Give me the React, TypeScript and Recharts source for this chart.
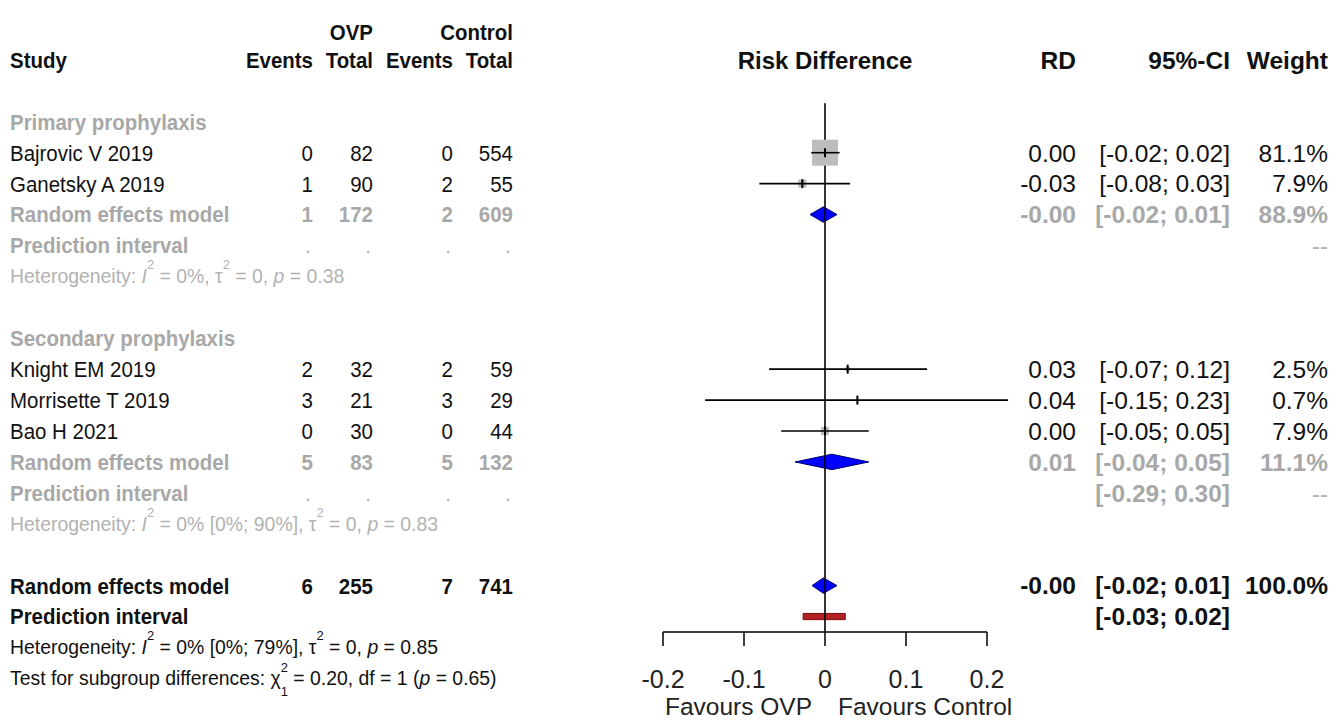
import React from 'react';
import { ComposedChart, XAxis, YAxis, Scatter, ReferenceLine, ReferenceArea } from 'recharts';

const FONT = '"Liberation Sans", Arial, Helvetica, sans-serif';
const INK = '#111111';
const GREY = '#a8a8a8';
const PALE = '#b2b2b2';

// single studies
const studyNames = ['Bajrovic V 2019', 'Ganetsky A 2019', 'Knight EM 2019', 'Morrisette T 2019', 'Bao H 2021'];
const studyRows = [3, 4, 10, 11, 12];
const ovpEvents = [0, 1, 2, 3, 0];
const ovpTotal = [82, 90, 32, 21, 30];
const ctrlEvents = [0, 2, 2, 3, 0];
const ctrlTotal = [554, 55, 59, 29, 44];
const studyRd = [0.0, -0.028, 0.028, 0.04, 0.0];
const studyLow = [-0.017, -0.081, -0.069, -0.148, -0.054];
const studyHigh = [0.018, 0.031, 0.126, 0.226, 0.054];
const studyWeight = [81.1, 7.9, 2.5, 0.7, 7.9];
const studyRdText = ['0.00', '-0.03', '0.03', '0.04', '0.00'];
const studyCiText = ['[-0.02; 0.02]', '[-0.08; 0.03]', '[-0.07; 0.12]', '[-0.15; 0.23]', '[-0.05; 0.05]'];
const studyWeightText = ['81.1%', '7.9%', '2.5%', '0.7%', '7.9%'];

// subgroups
const groupNames = ['Primary prophylaxis', 'Secondary prophylaxis'];
const groupRows = [2, 9];

// random effects (primary, secondary, overall)
const pooledRows = [5, 13, 17];
const pooledOvpEvents = [1, 5, 6];
const pooledOvpTotal = [172, 83, 255];
const pooledCtrlEvents = [2, 5, 7];
const pooledCtrlTotal = [609, 132, 741];
const pooledRd = [-0.002, 0.0085, -0.002];
const pooledLow = [-0.0185, -0.037, -0.016];
const pooledHigh = [0.0148, 0.054, 0.0148];
const pooledRdText = ['-0.00', '0.01', '-0.00'];
const pooledCiText = ['[-0.02; 0.01]', '[-0.04; 0.05]', '[-0.02; 0.01]'];
const pooledWeightText = ['88.9%', '11.1%', '100.0%'];

// prediction intervals
const piRows = [6, 14, 18];
const piCiText = ['', '[-0.29; 0.30]', '[-0.03; 0.02]'];
const piWeightText = ['--', '--', ''];
const overallPiLow = -0.027;
const overallPiHigh = 0.025;

// heterogeneity + test
const hetRows = [7, 15, 19];
const hetI2 = ['0%', '0% [0%; 90%]', '0% [0%; 79%]'];
const hetTau2 = ['0', '0', '0'];
const hetP = ['0.38', '0.83', '0.85'];
const testRow = 20;
const testChi2 = '0.20';
const testDf = '1';
const testP = '0.65';

const xTicks = [-0.2, -0.1, 0, 0.1, 0.2];
const xLabels = ['Favours OVP', 'Favours Control'];

type RowInfo = { row: number; kind: string; i: number };
const rowInfo: RowInfo[] = [
  { row: -0.9, kind: 'top', i: 0 },
  { row: 0, kind: 'head', i: 0 },
  ...groupRows.map((row, i) => ({ row, kind: 'group', i })),
  ...studyRows.map((row, i) => ({ row, kind: 'study', i })),
  ...pooledRows.map((row, i) => ({ row, kind: 'pooled', i })),
  ...piRows.map((row, i) => ({ row, kind: 'pi', i })),
  ...hetRows.map((row, i) => ({ row, kind: 'het', i })),
  { row: testRow, kind: 'test', i: 0 },
];
const rowTicks = rowInfo.map((r) => r.row);
const rowMap = new Map(rowInfo.map((r) => [r.row, r]));

const studyPoints = studyNames.map((name, i) => ({ name, x: studyRd[i], y: studyRows[i], w: studyWeight[i] }));

const LCOL = [313, 373, 453, 513];
const RCOL = [1076, 1230, 1328];
const LS = 22;
const LSX = 0.93; // left table is a bit condensed in the original
const RS = 24.5;
const HS = 19.4;

function txt(x: number, y: number, s: any, o: any = {}) {
  const size = o.size ?? LS;
  const sx = o.sx ?? LSX;
  return (
    <text
      key={o.k ?? `${x}-${s}`}
      transform={`translate(${x} ${y + size * 0.36}) scale(${sx} 1)`}
      x={0}
      y={0}
      textAnchor={o.anchor ?? 'end'}
      fontSize={size}
      fontWeight={o.bold ? 'bold' : 'normal'}
      fill={o.fill ?? INK}
      fontFamily={FONT}
    >
      {s}
    </text>
  );
}

function HetText({ y, i }: { y: number; i: number }) {
  const fill = i === 2 ? INK : PALE;
  return (
    <text x={10} y={y + 7} fontSize={HS} fill={fill} fontFamily={FONT}>
      Heterogeneity: <tspan fontStyle="italic">I</tspan>
      <tspan fontSize={13} dy={-14}>2</tspan>
      <tspan dy={14}>{` = ${hetI2[i]}, τ`}</tspan>
      <tspan fontSize={13} dy={-14}>2</tspan>
      <tspan dy={14}>{` = ${hetTau2[i]}, `}</tspan>
      <tspan fontStyle="italic">p</tspan>
      <tspan>{` = ${hetP[i]}`}</tspan>
    </text>
  );
}

function TestText({ y }: { y: number }) {
  return (
    <text x={10} y={y + 7} fontSize={HS} fill={INK} fontFamily={FONT}>
      Test for subgroup differences: χ
      <tspan fontSize={13} dy={-13}>2</tspan>
      <tspan fontSize={13} dx={-7.2} dy={24}>{testDf}</tspan>
      <tspan dy={-11}>{` = ${testChi2}, df = ${testDf} (`}</tspan>
      <tspan fontStyle="italic">p</tspan>
      <tspan>{` = ${testP})`}</tspan>
    </text>
  );
}

function LeftRow(props: any) {
  const { y, payload } = props;
  const r = rowMap.get(payload.value);
  if (!r) return <g />;
  const i = r.i;
  const out: any[] = [];
  if (r.kind === 'top') {
    out.push(txt(LCOL[1], y, 'OVP', { bold: true }), txt(LCOL[3], y, 'Control', { bold: true }));
  } else if (r.kind === 'head') {
    out.push(txt(10, y, 'Study', { bold: true, anchor: 'start' }));
    ['Events', 'Total', 'Events', 'Total'].forEach((s, c) => out.push(txt(LCOL[c], y, s, { bold: true, k: `h${c}` })));
  } else if (r.kind === 'group') {
    out.push(txt(10, y, groupNames[i], { bold: true, anchor: 'start', fill: GREY }));
  } else if (r.kind === 'study') {
    out.push(txt(10, y, studyNames[i], { anchor: 'start' }));
    [ovpEvents[i], ovpTotal[i], ctrlEvents[i], ctrlTotal[i]].forEach((v, c) => out.push(txt(LCOL[c], y, v, { k: `s${c}` })));
  } else if (r.kind === 'pooled') {
    const fill = i === 2 ? INK : GREY;
    out.push(txt(10, y, 'Random effects model', { bold: true, anchor: 'start', fill }));
    [pooledOvpEvents[i], pooledOvpTotal[i], pooledCtrlEvents[i], pooledCtrlTotal[i]].forEach((v, c) =>
      out.push(txt(LCOL[c], y, v, { bold: true, fill, k: `p${c}` })),
    );
  } else if (r.kind === 'pi') {
    const fill = i === 2 ? INK : GREY;
    out.push(txt(10, y, 'Prediction interval', { bold: true, anchor: 'start', fill }));
    if (i !== 2) LCOL.forEach((x, c) => out.push(txt(x - 2, y, '.', { fill: PALE, k: `d${c}` })));
  } else if (r.kind === 'het') {
    out.push(<HetText key="het" y={y} i={i} />);
  } else if (r.kind === 'test') {
    out.push(<TestText key="test" y={y} />);
  }
  return <g>{out}</g>;
}

function RightRow(props: any) {
  const { y, payload } = props;
  const r = rowMap.get(payload.value);
  if (!r) return <g />;
  const i = r.i;
  const out: any[] = [];
  const o = { size: RS, sx: 1 };
  if (r.kind === 'head') {
    out.push(txt(825, y, 'Risk Difference', { bold: true, anchor: 'middle', size: 24, sx: 1 }));
    out.push(txt(RCOL[0], y, 'RD', { ...o, bold: true }));
    out.push(txt(RCOL[1], y, '95%-CI', { ...o, bold: true }));
    out.push(txt(RCOL[2], y, 'Weight', { ...o, bold: true }));
  } else if (r.kind === 'study') {
    out.push(txt(RCOL[0], y, studyRdText[i], o));
    out.push(txt(RCOL[1], y, studyCiText[i], o));
    out.push(txt(RCOL[2], y, studyWeightText[i], o));
  } else if (r.kind === 'pooled') {
    const fill = i === 2 ? INK : GREY;
    out.push(txt(RCOL[0], y, pooledRdText[i], { ...o, bold: true, fill }));
    out.push(txt(RCOL[1], y, pooledCiText[i], { ...o, bold: true, fill }));
    out.push(txt(RCOL[2], y, pooledWeightText[i], { ...o, bold: true, fill }));
  } else if (r.kind === 'pi') {
    const fill = i === 2 ? INK : GREY;
    if (piCiText[i]) out.push(txt(RCOL[1], y, piCiText[i], { ...o, bold: true, fill }));
    if (piWeightText[i]) out.push(txt(RCOL[2], y, piWeightText[i], { ...o, fill: PALE }));
  }
  return <g>{out}</g>;
}

function AxisTick(props: any) {
  const { x, y, payload } = props;
  return (
    <g>
      <text x={x} y={y + 42} textAnchor="middle" fontSize={25} fill="#222" fontFamily={FONT}>
        {payload.value}
      </text>
      {payload.value === 0 && (
        <g>
          <text x={x - 13} y={y + 69} textAnchor="end" fontSize={24.5} fill="#222" fontFamily={FONT}>
            {xLabels[0]}
          </text>
          <text x={x + 13} y={y + 69} textAnchor="start" fontSize={24.5} fill="#222" fontFamily={FONT}>
            {xLabels[1]}
          </text>
        </g>
      )}
    </g>
  );
}

function Square(props: any) {
  const { cx, cy, payload } = props;
  const s = 26 * Math.sqrt(payload.w / 81.1);
  return <rect x={cx - s / 2} y={cy - s / 2} width={s} height={s} fill="#bdbdbd" />;
}

function Tick(props: any) {
  const { cx, cy } = props;
  return <line x1={cx} x2={cx} y1={cy - 4.5} y2={cy + 4.5} stroke="#000" strokeWidth={2} />;
}

function diamond(est: number, lo: number, hi: number) {
  return (p: any) => {
    const { x, y, width, height } = p;
    const cx = x + (width * (est - lo)) / (hi - lo);
    const cy = y + height / 2;
    return (
      <polygon
        points={`${x},${cy} ${cx},${y} ${x + width},${cy} ${cx},${y + height}`}
        fill="#0000ff"
        stroke="#00006e"
        strokeWidth={1}
      />
    );
  };
}

export default function App() {
  return (
    <div style={{ position: 'absolute', left: 0, top: 0, width: 1336, height: 722, background: '#fff' }}>
      <ComposedChart width={1336} height={722} margin={{ top: 29, right: 0, bottom: 30, left: 0 }}>
        <XAxis
          xAxisId={0}
          dataKey="x"
          type="number"
          domain={[-0.2, 0.2]}
          allowDataOverflow
          ticks={xTicks}
          interval={0}
          height={60}
          tickSize={14}
          tickMargin={0}
          stroke="#000"
          axisLine={{ stroke: '#000', strokeWidth: 1.5 }}
          tickLine={{ stroke: '#000', strokeWidth: 1.5 }}
          tick={AxisTick}
        />
        <YAxis
          yAxisId="rows"
          dataKey="y"
          type="number"
          domain={[-1, 18.5]}
          reversed
          allowDataOverflow
          ticks={rowTicks}
          interval={0}
          width={663}
          axisLine={false}
          tickLine={false}
          tick={LeftRow}
        />
        <YAxis
          yAxisId="right"
          orientation="right"
          dataKey="y"
          type="number"
          domain={[-1, 18.5]}
          reversed
          allowDataOverflow
          ticks={rowTicks}
          interval={0}
          width={349}
          axisLine={false}
          tickLine={false}
          tick={RightRow}
        />
        <ReferenceLine
          yAxisId="rows"
          segment={[{ x: 0, y: 1.4 }, { x: 0, y: 18.5 }]}
          stroke="#000"
          strokeWidth={1.6}
          ifOverflow="visible"
        />
        <Scatter yAxisId="rows" data={studyPoints} shape={Square} isAnimationActive={false} zIndex={550} />
        {studyNames.map((n, i) => (
          <ReferenceLine
            key={n}
            yAxisId="rows"
            segment={[{ x: studyLow[i], y: studyRows[i] }, { x: studyHigh[i], y: studyRows[i] }]}
            stroke="#000"
            strokeWidth={1.6}
            ifOverflow="visible"
            zIndex={650}
          />
        ))}
        <Scatter yAxisId="rows" data={studyPoints} shape={Tick} isAnimationActive={false} zIndex={700} />
        {pooledRows.map((row, i) => (
          <ReferenceArea
            key={`d${row}`}
            yAxisId="rows"
            x1={pooledLow[i]}
            x2={pooledHigh[i]}
            y1={row - 0.25}
            y2={row + 0.25}
            shape={diamond(pooledRd[i], pooledLow[i], pooledHigh[i])}
          />
        ))}
        <ReferenceArea
          yAxisId="rows"
          x1={overallPiLow}
          x2={overallPiHigh}
          y1={piRows[2] - 0.1}
          y2={piRows[2] + 0.1}
          fill="#b22222"
          fillOpacity={1}
          stroke="#7a0f0f"
          strokeWidth={1}
        />
      </ComposedChart>
    </div>
  );
}
